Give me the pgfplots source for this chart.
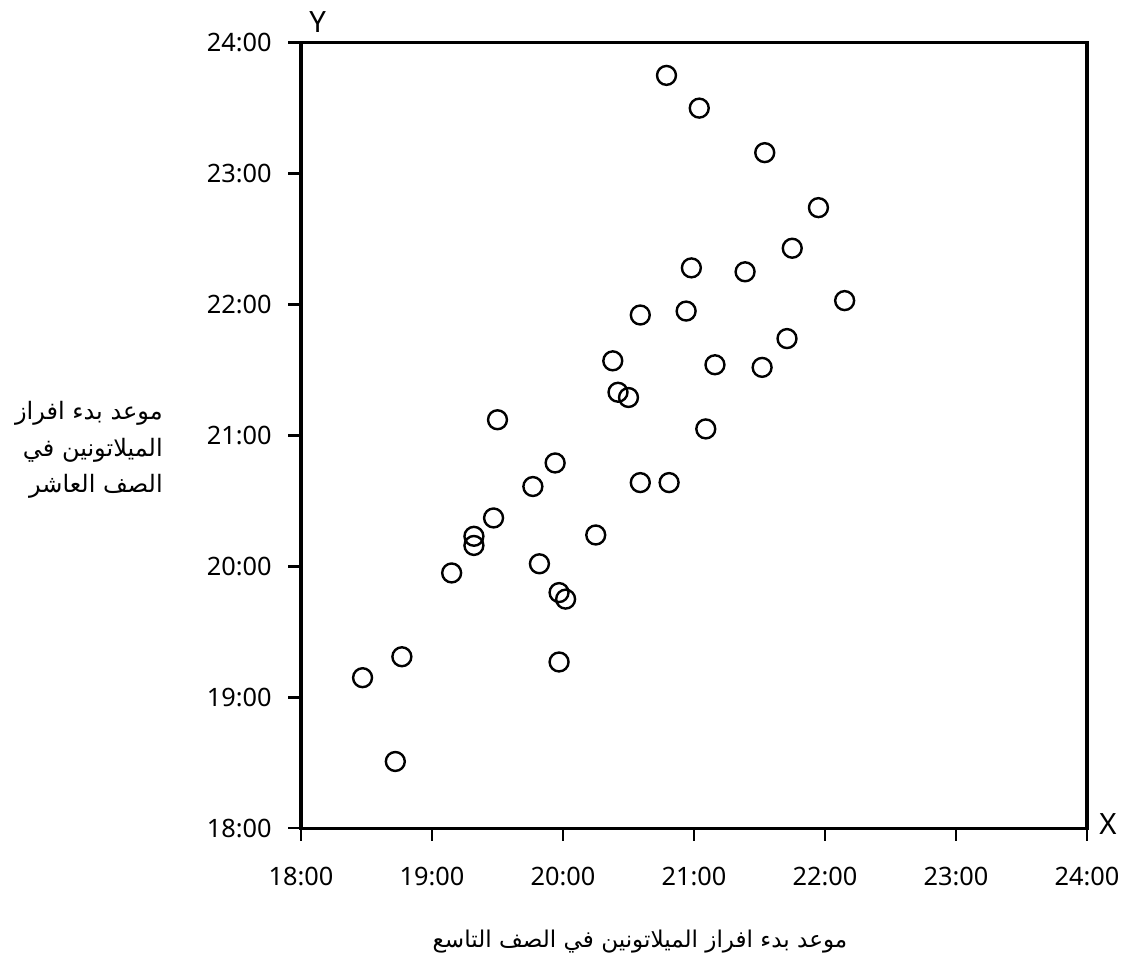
\documentclass[border=0pt]{standalone}
\usepackage{pgfplots}
\pgfplotsset{compat=1.18}
\usepackage{fontspec}
\setmainfont{Noto Sans}
\newfontfamily\arabicfont[Script=Arabic]{DejaVu Sans}
\TeXXeTstate=1
\begin{document}
\begin{tikzpicture}
\begin{axis}[
  name=ax,
  scale only axis, width=589.5pt, height=589.2pt,
  xmin=18, xmax=24, ymin=18, ymax=24,
  axis line style={line width=2.5pt, line cap=rect},
  xtick={18,19,20,21,22,23,24},
  ytick={18,19,20,21,22,23,24},
  xticklabels={18:00,19:00,20:00,21:00,22:00,23:00,24:00},
  yticklabels={18:00,19:00,20:00,21:00,22:00,23:00,24:00},
  xtick pos=bottom, ytick pos=left,
  tick align=outside,
  major tick length=9.5pt,
  tick style={line width=1.8pt, black},
  ticklabel style={font=\fontsize{19}{22}\selectfont},
  xticklabel style={yshift=-16pt},
  yticklabel style={xshift=-9pt},
  clip=false,
]
\addplot[only marks, mark=o, mark size=7.1pt, mark options={line width=1.8pt, black}] table {
x y
20.79 23.75
21.04 23.50
21.54 23.16
21.95 22.74
21.75 22.43
20.98 22.28
21.39 22.25
22.15 22.03
20.59 21.92
20.94 21.95
21.71 21.74
20.38 21.57
21.16 21.54
21.52 21.52
20.42 21.33
20.50 21.29
19.50 21.12
21.09 21.05
19.94 20.79
19.77 20.61
20.59 20.64
20.81 20.64
19.47 20.37
19.32 20.23
19.32 20.16
20.25 20.24
19.15 19.95
19.82 20.02
19.97 19.80
20.02 19.75
18.77 19.31
18.47 19.15
19.97 19.27
18.72 18.51
};
\end{axis}
\node[anchor=south west, font=\fontsize{22}{26}\selectfont, inner sep=0pt] at ([xshift=6pt,yshift=7.5pt]ax.north west) {Y};
\node[anchor=west, font=\fontsize{22}{26}\selectfont, inner sep=0pt] at ([xshift=9pt,yshift=3pt]ax.south east) {X};
\node[anchor=east, align=right, inner sep=0pt, font=\arabicfont\fontsize{18}{27.5}\selectfont] at ([xshift=-103.5pt,yshift=-11pt]ax.west)
  {\beginR موعد بدء افراز\endR\\ \beginR الميلاتونين في\endR\\ \beginR الصف العاشر\endR};
\node[anchor=center, inner sep=0pt, font=\arabicfont\fontsize{17.3}{20}\selectfont] at ([xshift=-40.5pt,yshift=-85pt]ax.south)
  {\beginR موعد بدء افراز الميلاتونين في الصف التاسع\endR};
\pgfresetboundingbox
\path ([xshift=-225.75pt,yshift=-104pt]ax.south west) rectangle ([xshift=25.5pt,yshift=32pt]ax.north east);
\end{tikzpicture}
\end{document}
